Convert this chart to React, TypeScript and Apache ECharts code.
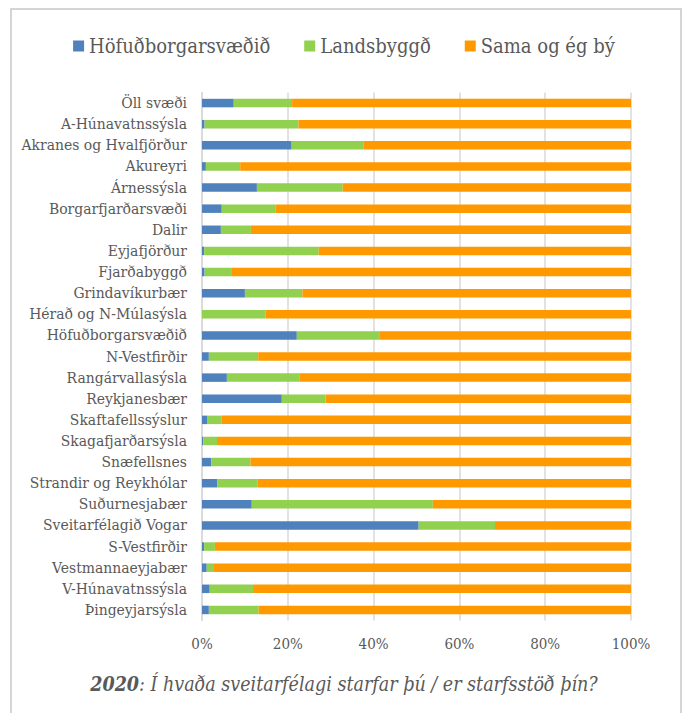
import React, { useEffect, useRef } from "react";
import * as echarts from "echarts";

const categories = [
  "Öll svæði", "A-Húnavatnssýsla", "Akranes og Hvalfjörður", "Akureyri", "Árnessýsla",
  "Borgarfjarðarsvæði", "Dalir", "Eyjafjörður", "Fjarðabyggð", "Grindavíkurbær",
  "Hérað og N-Múlasýsla", "Höfuðborgarsvæðið", "N-Vestfirðir", "Rangárvallasýsla", "Reykjanesbær",
  "Skaftafellssýslur", "Skagafjarðarsýsla", "Snæfellsnes", "Strandir og Reykhólar", "Suðurnesjabær",
  "Sveitarfélagið Vogar", "S-Vestfirðir", "Vestmannaeyjabær", "V-Húnavatnssýsla", "Þingeyjarsýsla",
];

const seriesNames = ["Höfuðborgarsvæðið", "Landsbyggð", "Sama og ég bý"];

const hofudborgarsvaedid = [7.4, 0.6, 20.9, 0.9, 12.8, 4.6, 4.4, 0.5, 0.6, 10.0, 0, 22.1, 1.6, 5.8, 18.6, 1.3, 0.3, 2.2, 3.6, 11.6, 50.5, 0.5, 1.1, 1.8, 1.6];
const landsbyggd = [13.6, 21.9, 16.8, 8.0, 20.0, 12.5, 7.0, 26.7, 6.2, 13.4, 14.8, 19.2, 11.5, 17.0, 10.2, 3.2, 3.2, 9.1, 9.3, 42.2, 17.8, 2.5, 1.7, 10.1, 11.6];
const samaOgEgBy = [79.0, 77.5, 62.3, 91.1, 67.2, 82.9, 88.6, 72.8, 93.2, 76.6, 85.2, 58.7, 86.9, 77.2, 71.2, 95.5, 96.5, 88.7, 87.1, 46.2, 31.7, 97.0, 97.2, 88.1, 86.8];

const xTicks = { min: 0, max: 100, interval: 20 };
const titleYear = "2020";
const titleText = ": Í hvaða sveitarfélagi starfar þú / er starfsstöð þín?";

const colors = ["#4f81bd", "#92d050", "#ff9900"];
const FONT = '"DejaVu Serif Condensed", "Liberation Serif", serif';

export default function App() {
  const ref = useRef<HTMLDivElement>(null);
  useEffect(() => {
    if (!ref.current) return;
    const chart = echarts.init(ref.current, null, { renderer: "svg" });
    const values = [hofudborgarsvaedid, landsbyggd, samaOgEgBy];
    chart.setOption({
      animation: false,
      backgroundColor: "#ffffff",
      textStyle: { fontFamily: FONT },
      title: {
        text: `{b|${titleYear}}{i|${titleText}}`,
        left: "center",
        top: 669,
        textStyle: {
          fontWeight: "normal",
          rich: {
            b: { fontFamily: FONT, fontSize: 19.5, fontWeight: "bold", fontStyle: "italic", color: "#595959" },
            i: { fontFamily: FONT, fontSize: 19.5, fontWeight: "normal", fontStyle: "italic", color: "#595959" },
          },
        },
      },
      legend: {
        data: seriesNames,
        top: 31,
        left: "center",
        icon: "rect",
        itemWidth: 11,
        itemHeight: 11,
        itemGap: 34,
        textStyle: { fontFamily: FONT, fontSize: 20, color: "#595959" },
      },
      grid: { left: 202, right: 57, top: 92.5, bottom: 92.5, containLabel: false },
      xAxis: {
        type: "value",
        min: xTicks.min,
        max: xTicks.max,
        interval: xTicks.interval,
        axisLabel: { formatter: "{value}%", fontFamily: FONT, fontSize: 15, color: "#595959", margin: 16 },
        axisLine: { show: false },
        axisTick: { show: false },
        splitLine: { lineStyle: { color: "#d9d9d9", width: 1.5 } },
      },
      yAxis: {
        type: "category",
        inverse: true,
        data: categories,
        axisLabel: { interval: 0, fontFamily: FONT, fontSize: 15.5, color: "#595959", margin: 15 },
        axisLine: { lineStyle: { color: "#d9d9d9", width: 1.5 } },
        axisTick: { show: false },
      },
      series: seriesNames.map((name, i) => ({
        name,
        type: "bar",
        stack: "total",
        barWidth: 8.5,
        data: values[i],
        itemStyle: { color: colors[i] },
      })),
      graphic: [
        {
          type: "rect",
          shape: { x: 11, y: 9, width: 670, height: 708 },
          style: { fill: "none", stroke: "#c8c8c8", lineWidth: 1.5 },
          silent: true,
        },
      ],
    });
    return () => chart.dispose();
  }, []);
  return <div ref={ref} style={{ position: "absolute", left: 0, top: 0, width: 688, height: 713 }} />;
}
